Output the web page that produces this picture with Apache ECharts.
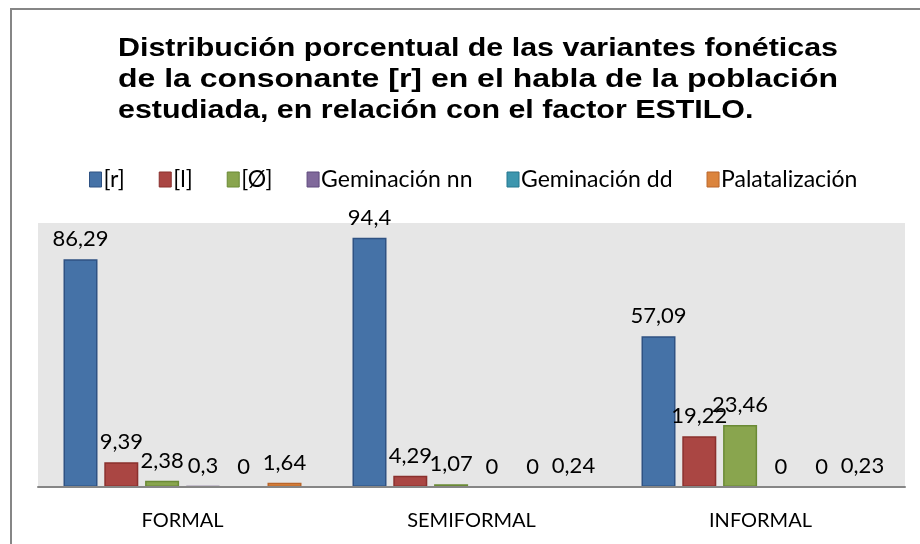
<!DOCTYPE html>
<html>
<head>
<meta charset="utf-8">
<script src="https://cdn.jsdelivr.net/npm/echarts@6/dist/echarts.min.js"></script>
<style>
  html, body { margin: 0; padding: 0; background: #fff; }
  #main { width: 920px; height: 544px; }
</style>
</head>
<body>
<div id="main"></div>
<script>
/*#############  数据  ###############*/
var categories = ["FORMAL", "SEMIFORMAL", "INFORMAL"];
var seriesNames = ["[r]", "[l]", "[Ø]", "Geminación nn", "Geminación dd", "Palatalización"];
var valR = [86.29, 94.4, 57.09];
var valL = [9.39, 4.29, 19.22];
var valO = [2.38, 1.07, 23.46];
var valGemNN = [0.3, 0, 0];
var valGemDD = [0, 0, 0];
var valPalat = [1.64, 0.24, 0.23];
var titleLines = [
  "Distribución porcentual de las variantes fonéticas",
  "de la consonante [r] en el habla de la población",
  "estudiada, en relación con el factor ESTILO."
];

var colors = ["#4572a7", "#aa4643", "#89a54e", "#80699b", "#3d96ae", "#db843d"];
var borders = ["#2f5283", "#8a302d", "#6a8a35", "#5f4a7c", "#25778e", "#b9652a"];
var allValues = [valR, valL, valO, valGemNN, valGemDD, valPalat];

/*#############  标题（两端对齐）  ###############*/
var titleFont = "bold 26px 'Liberation Sans'";
var ctx = document.createElement("canvas").getContext("2d");
ctx.font = titleFont;
var titleWidth = 720; //标题文字宽度
var baseScale = titleWidth / ctx.measureText(titleLines[0]).width;
var titleGraphic = [];
for (var t = 0; t < titleLines.length; t++) {
  var sx = baseScale;
  if (t == 1) sx = titleWidth / ctx.measureText(titleLines[1]).width;
  titleGraphic.push({
    type: "text",
    x: 118,
    y: 36 + t * 31,
    scaleX: sx,
    silent: true,
    style: {
      text: titleLines[t],
      font: titleFont,
      fill: "#000",
      textAlign: "left",
      textVerticalAlign: "top"
    }
  });
}

var series = [];
for (var i = 0; i < seriesNames.length; i++) {
  series.push({
    name: seriesNames[i],
    type: "bar",
    barWidth: 34,
    barGap: "20%",
    data: allValues[i].map(function (v) {
      return { value: v, itemStyle: { borderWidth: v > 0 ? 1.5 : 0 } };
    }),
    itemStyle: {
      color: colors[i],
      borderColor: borders[i]
    },
    label: {
      show: true,
      position: "top",
      distance: 9,
      color: "#000",
      fontFamily: "Lato",
      fontSize: 22,
      formatter: function (p) {
        return String(p.value).replace(".", ",");
      }
    }
  });
}

var myChart = echarts.init(document.getElementById("main"));
var option = {
  animation: false,
  color: colors,
  legend: {
    data: seriesNames,
    left: 84,
    top: 163,
    itemWidth: 12,
    itemHeight: 15,
    itemGap: 34,
    icon: "rect",
    itemStyle: { borderWidth: 1 },
    textStyle: {
      fontFamily: "Lato",
      fontSize: 23,
      color: "#000",
      padding: [0, 0, 0, -3]
    }
  },
  graphic: [{
    type: "rect",
    shape: { x: 11, y: 9, width: 930, height: 560 },
    style: { fill: "none", stroke: "#868686", lineWidth: 2 },
    silent: true
  }].concat(titleGraphic),
  grid: {
    left: 38,
    right: 15,
    top: 223,
    bottom: 57,
    show: true,
    backgroundColor: "#e6e6e6",
    borderWidth: 0
  },
  xAxis: {
    type: "category",
    data: categories,
    z: 5,
    axisLine: { show: true, lineStyle: { color: "#868686", width: 2 } },
    axisTick: { show: false },
    axisLabel: {
      color: "#000",
      fontFamily: "Lato",
      fontSize: 20,
      margin: 24
    }
  },
  yAxis: {
    type: "value",
    min: 0,
    max: 100,
    show: false,
    splitLine: { show: false }
  },
  series: series
};
if (option && typeof option === "object") {
  myChart.setOption(option, true);
}
</script>
</body>
</html>
